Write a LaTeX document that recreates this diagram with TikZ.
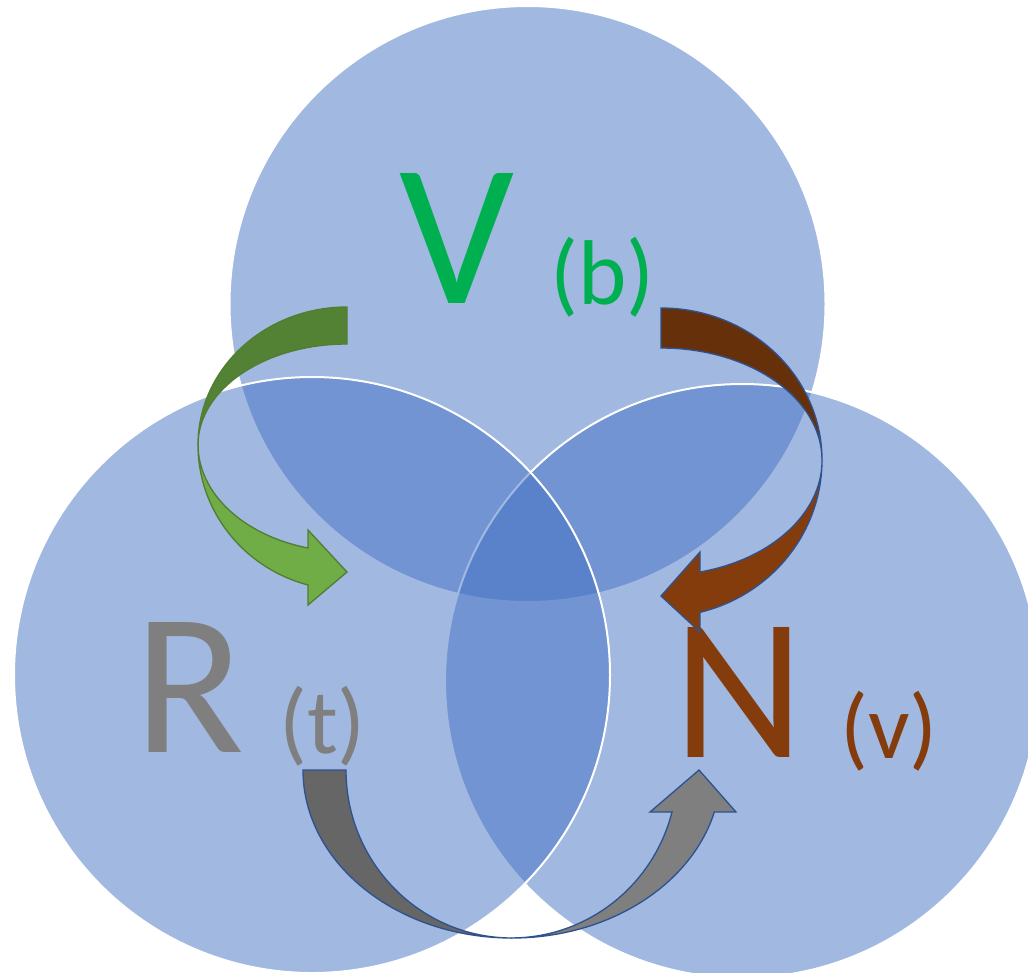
\documentclass[tikz,border=0pt]{standalone}
\usepackage{fontspec}
\setmainfont{Carlito}
\definecolor{circfill}{HTML}{4472C4}
\definecolor{vgreen}{HTML}{00B050}
\definecolor{ngray}{HTML}{7F7F7F}
\definecolor{nbrown}{HTML}{843C0C}
\definecolor{gdark}{HTML}{548235}
\definecolor{glight}{HTML}{70AD47}
\definecolor{gline}{HTML}{507E32}
\definecolor{bdark}{HTML}{66300B}
\definecolor{bline}{HTML}{2F528F}
\definecolor{graydark}{HTML}{666666}
\definecolor{graylight}{HTML}{7F7F7F}
\tikzset{
  venn/.style={fill=circfill, fill opacity=0.5, draw=white, line width=1.5pt},
  biglet/.style={inner sep=0pt, anchor=base, font=\fontsize{152}{152}\selectfont},
  smalllet/.style={inner sep=0pt, anchor=base, font=\fontsize{69}{69}\selectfont},
  arr/.style={line width=1pt, line join=miter}
}
\begin{document}
\begin{tikzpicture}[x=0.75pt,y=-0.75pt]
\clip (0,0) rectangle (1028,972);
\fill[white] (0,0) rectangle (1028,972);
% circles
\coordinate (ctop) at (527.5,304);
\coordinate (cright) at (742,681);
\coordinate (cleft) at (312,675);
\path[venn] (ctop) circle[radius=298];
\path[venn] (cright) circle[radius=297];
\path[venn] (cleft) circle[radius=298];
% labels
\node[biglet, text=vgreen] (V) at (457,303) {V};
\node[smalllet, text=vgreen] (b) at (602.5,304) {(b)};
\node[biglet, text=ngray] (R) at (190,752) {R};
\node[smalllet, text=ngray] (t) at (322.5,753) {(t)};
\node[biglet, text=nbrown] (N) at (739,757) {N};
\node[smalllet, text=nbrown] (v) at (889,758) {(v)};
% green curved arrow
\filldraw[arr, fill=gdark, draw=gline] (347,307)
  arc[start angle=270, end angle=180, x radius=149, y radius=138]
  arc[start angle=180, end angle=270, x radius=149, y radius=101] -- cycle;
\filldraw[arr, fill=glight, draw=gline] (198,445)
  arc[start angle=180, end angle=105.2, x radius=149, y radius=145]
  -- (308,605) -- (347,572) -- (308,530) -- (308,548)
  arc[start angle=105.2, end angle=180, x radius=149, y radius=107] -- cycle;
% brown curved arrow
\filldraw[arr, fill=bdark, draw=bline] (661,308)
  arc[start angle=270, end angle=360, x radius=161, y radius=152]
  arc[start angle=0, end angle=-90, x radius=161, y radius=112] -- cycle;
\filldraw[arr, fill=nbrown, draw=bline] (822,460)
  arc[start angle=0, end angle=76, x radius=161, y radius=157]
  -- (700,632) -- (661,596) -- (700,552) -- (700,572)
  arc[start angle=76, end angle=0, x radius=161, y radius=115] -- cycle;
% gray curved arrow
\filldraw[arr, fill=graydark, draw=bline] (303,770)
  arc[start angle=180, end angle=90, x radius=209, y radius=168]
  arc[start angle=90, end angle=180, x radius=166, y radius=168] -- cycle;
\filldraw[arr, fill=graylight, draw=bline] (512,938)
  arc[start angle=90, end angle=14.5, x radius=209, y radius=168]
  -- (736,812) -- (699,770) -- (650,812) -- (672,812)
  arc[start angle=14.5, end angle=90, x radius=166, y radius=168] -- cycle;
\end{tikzpicture}
\end{document}
